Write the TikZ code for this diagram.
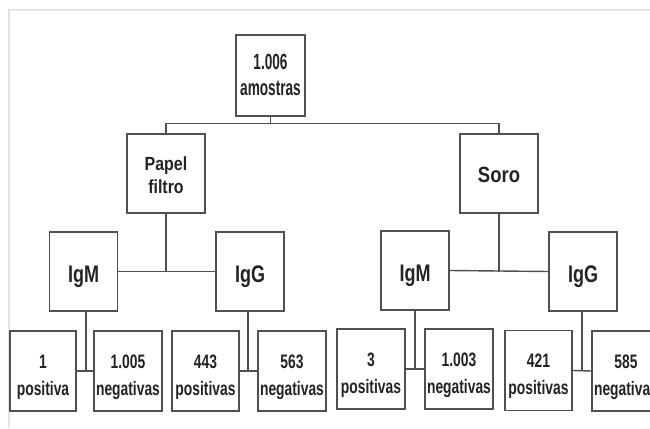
\documentclass[tikz,border=0pt]{standalone}
\usepackage{fontspec}
\setmainfont{Liberation Sans}
\newfontfamily\fA{Liberation Sans}[FakeStretch=0.62]
\newfontfamily\fB{Liberation Sans}[FakeStretch=0.71]
\newfontfamily\fC{Liberation Sans}[FakeStretch=0.75]
\newfontfamily\fD{Liberation Sans}[FakeStretch=0.84]
\definecolor{ln}{RGB}{80,80,80}
\definecolor{frm}{RGB}{228,228,228}
\definecolor{txt}{RGB}{35,35,35}
\tikzset{
  box/.style={draw=ln, line width=1.4pt, rectangle, inner sep=0pt, align=center, text=txt},
  topbox/.style={box, minimum width=69pt, minimum height=81pt, text height=39pt, text depth=0pt,
    font=\fA\bfseries\fontsize{22}{25}\selectfont},
  midbox/.style={box, minimum width=78pt, minimum height=79pt},
  igbox/.style={box, minimum width=68pt, minimum height=79pt, text height=21pt, text depth=0pt,
    font=\fC\bfseries\fontsize{24}{26}\selectfont},
  leaf/.style={box, minimum width=68pt, minimum height=80pt, text height=48pt, text depth=0pt,
    font=\fB\bfseries\fontsize{19.5}{27}\selectfont},
  conn/.style={draw=ln, line width=1.4pt}
}
\begin{document}
\begin{tikzpicture}[x=1pt,y=-1pt]
\useasboundingbox (0,0) rectangle (650,428);
\clip (0,0) rectangle (650,428);
\fill[white] (0,0) rectangle (650,428);
% frame
\draw[frm, line width=1.3pt] (9,428) -- (9,10) -- (650,10);
% nodes
\node[topbox] (top) at (270.5,75.5) {1.006\\amostras};
\node[midbox, text height=39pt, text depth=0pt, font=\fD\bfseries\fontsize{19}{23}\selectfont] (papel) at (166,173.5) {Papel\\filtro};
\node[midbox, text height=17pt, text depth=0pt, font=\fD\bfseries\fontsize{22}{25}\selectfont] (soro) at (499,173.5) {Soro};
\node[igbox] (igml) at (83.5,271.5) {IgM};
\node[igbox] (iggl) at (250,271.5) {IgG};
\node[igbox] (igmr) at (415,270.5) {IgM};
\node[igbox] (iggr) at (583,271.5) {IgG};
\node[leaf, minimum width=66pt] (l1) at (43,371) {1\\positiva};
\node[leaf] (l2) at (128,371) {1.005\\negativas};
\node[leaf, minimum width=67pt] (l3) at (205.5,371) {443\\positivas};
\node[leaf] (l4) at (292,371) {563\\negativas};
\node[leaf] (r1) at (371,369) {3\\positivas};
\node[leaf] (r2) at (459,369) {1.003\\negativas};
\node[leaf, minimum width=67pt] (r3) at (538.5,370.5) {421\\positivas};
\node[leaf] (r4) at (626,371) {585\\negativas};
% connectors
\coordinate (j0) at (270.5,124);
\draw[conn] (top.south) -- (j0);
\draw[conn] (papel.north) -- ++(0,-10) -| (soro.north);
\draw[conn] (igml.east) -- (iggl.west);
\draw[conn] (papel.south) -- (papel.south |- iggl.west);
\draw[conn] (igmr.east) -- (iggr.west);
\draw[conn] (soro.south) -- (soro.south |- iggr.west);
\draw[conn] (l1.east) -- (l2.west);
\draw[conn] (igml.south) ++(2.5,0) coordinate (s1) -- (s1 |- l1.east);
\draw[conn] (l3.east) -- (l4.west);
\draw[conn] (iggl.south) ++(-2,0) coordinate (s2) -- (s2 |- l3.east);
\draw[conn] (r1.east) -- (r2.west);
\draw[conn] (igmr.south) -- (igmr.south |- r1.east);
\draw[conn] (r3.east) -- (r4.west);
\draw[conn] (iggr.south) ++(-1,0) coordinate (s3) -- (s3 |- r3.east);
\end{tikzpicture}
\end{document}
